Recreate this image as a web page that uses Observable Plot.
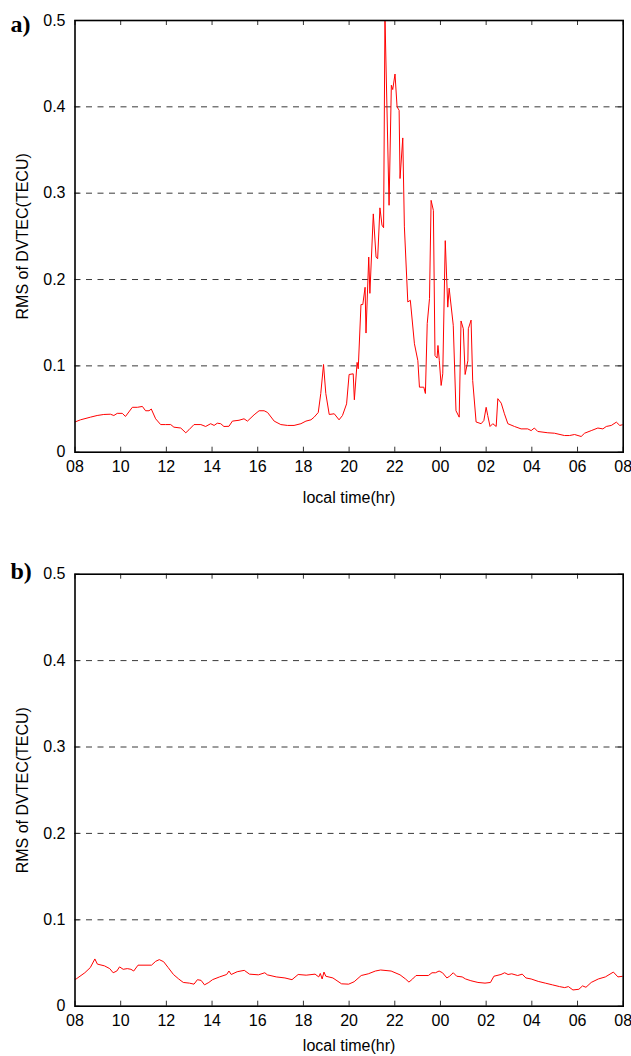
<!DOCTYPE html>
<html><head><meta charset="utf-8">
<script src="https://cdn.jsdelivr.net/npm/d3@7"></script>
<script src="https://cdn.jsdelivr.net/npm/@observablehq/plot@0.6"></script>
<style>
html,body{margin:0;padding:0;background:#fff;}
#chart svg{display:block;}
</style></head><body><div id="chart"></div>
<script>
// ---- data (local time in hours from 08 to next-day 08, RMS of DVTEC in TECU) ----
const hoursA = [8.00,8.24,8.68,8.97,9.26,9.55,9.70,9.85,10.07,10.21,10.51,10.73,10.95,11.09,11.24,11.34,11.53,11.75,11.97,12.19,12.33,12.63,12.85,12.99,13.21,13.51,13.72,13.94,14.09,14.23,14.38,14.52,14.74,14.89,15.18,15.40,15.55,15.84,16.06,16.28,16.43,16.72,17.01,17.30,17.59,17.89,18.11,18.33,18.47,18.65,18.76,18.88,18.98,19.13,19.35,19.56,19.71,19.89,20.00,20.18,20.23,20.35,20.40,20.52,20.60,20.70,20.74,20.86,20.91,21.06,21.18,21.25,21.35,21.44,21.51,21.57,21.75,21.85,21.91,22.01,22.10,22.19,22.23,22.35,22.42,22.57,22.68,22.86,23.01,23.08,23.27,23.34,23.42,23.52,23.59,23.69,23.76,23.85,23.89,23.95,24.03,24.10,24.21,24.32,24.38,24.56,24.68,24.82,24.90,25.00,25.08,25.20,25.22,25.34,25.41,25.56,25.78,25.90,26.00,26.07,26.17,26.29,26.44,26.51,26.66,26.80,26.95,27.24,27.53,27.82,27.97,28.11,28.26,28.70,28.99,29.43,29.65,29.87,30.16,30.31,30.60,30.89,31.11,31.26,31.48,31.70,31.85,32.00];
const rmsA = [0.035,0.0375,0.0406,0.0425,0.0437,0.044,0.0425,0.045,0.045,0.0414,0.052,0.052,0.053,0.048,0.048,0.050,0.0387,0.032,0.032,0.032,0.029,0.028,0.0225,0.026,0.032,0.032,0.0298,0.033,0.031,0.0336,0.033,0.0298,0.030,0.036,0.037,0.0387,0.036,0.0433,0.048,0.048,0.046,0.036,0.032,0.031,0.031,0.033,0.036,0.0375,0.0406,0.046,0.068,0.1016,0.068,0.0437,0.0445,0.0375,0.0425,0.056,0.090,0.0908,0.0607,0.104,0.0966,0.171,0.171,0.191,0.138,0.226,0.184,0.276,0.226,0.224,0.283,0.263,0.260,0.505,0.286,0.425,0.42,0.438,0.40,0.396,0.317,0.364,0.261,0.174,0.176,0.1256,0.106,0.0753,0.0753,0.068,0.149,0.178,0.2917,0.28,0.112,0.109,0.1236,0.106,0.0773,0.0908,0.245,0.168,0.190,0.147,0.048,0.0406,0.152,0.143,0.090,0.106,0.143,0.153,0.083,0.035,0.033,0.0367,0.052,0.0425,0.0298,0.033,0.0298,0.062,0.0568,0.0445,0.033,0.0298,0.027,0.027,0.025,0.028,0.024,0.0225,0.022,0.0193,0.0193,0.0205,0.0182,0.022,0.025,0.028,0.027,0.0298,0.031,0.0348,0.031,0.032];

const hoursB = [8.00,8.05,8.43,8.67,8.87,8.98,9.29,9.52,9.67,9.83,9.95,10.11,10.29,10.45,10.57,10.76,11.35,11.53,11.69,11.88,12.08,12.31,12.54,12.74,13.01,13.21,13.36,13.52,13.67,13.86,14.02,14.33,14.64,14.74,14.84,15.10,15.41,15.64,16.03,16.31,16.42,16.81,17.19,17.50,17.77,18.12,18.51,18.67,18.74,18.82,18.90,18.98,19.29,19.67,19.98,20.22,20.53,20.84,21.15,21.38,21.84,22.23,22.47,22.62,22.78,22.93,23.47,23.63,23.78,23.94,24.09,24.28,24.40,24.56,24.71,24.95,25.10,25.33,25.64,25.95,26.19,26.34,26.65,26.81,26.96,27.12,27.38,27.58,27.74,27.97,28.28,28.59,28.90,29.21,29.44,29.60,29.80,30.06,30.22,30.37,30.60,30.91,31.22,31.57,31.77,32.00];
const rmsB = [0.031,0.0315,0.0387,0.0447,0.0547,0.0487,0.0467,0.0435,0.0387,0.0407,0.0455,0.0427,0.0435,0.0427,0.0407,0.0475,0.0475,0.0519,0.0539,0.0515,0.0447,0.0367,0.0315,0.0275,0.0267,0.0255,0.0307,0.0299,0.0247,0.0275,0.0307,0.0339,0.0367,0.0407,0.0367,0.0399,0.0415,0.0371,0.0363,0.0387,0.0363,0.0339,0.0327,0.0307,0.0367,0.0359,0.0371,0.0339,0.0379,0.0315,0.0395,0.0347,0.0327,0.0259,0.0255,0.0283,0.0355,0.0375,0.0407,0.0419,0.0407,0.0363,0.0315,0.0279,0.0315,0.0355,0.0355,0.0387,0.0387,0.0407,0.0387,0.0327,0.0347,0.0387,0.0347,0.0339,0.0315,0.0295,0.0275,0.0267,0.0275,0.0347,0.0367,0.0387,0.0367,0.0375,0.0355,0.0371,0.0327,0.0315,0.0287,0.0267,0.0247,0.0227,0.0215,0.0227,0.0188,0.0196,0.0235,0.0219,0.0275,0.0315,0.0339,0.0395,0.0339,0.0347];

const xTicks = [8,10,12,14,16,18,20,22,24,26,28,30,32];
const yTicks = [0,0.1,0.2,0.3,0.4,0.5];
const gridValues = [0.1,0.2,0.3,0.4];
const xLabel = "local time(hr)";
const yLabel = "RMS of DVTEC(TECU)";
const panelTags = ["a)", "b)"];

const fmtHour = h => String(h % 24).padStart(2, "0");

function panel(hours, values, tag, cfg) {
  const data = hours.map((h, i) => ({h, v: values[i]}));
  const W = 631, mL = 74.5, mR = 8.3;
  const ph = cfg.height - cfg.marginTop - cfg.marginBottom;
  const pw = W - mL - mR;
  return Plot.plot({
    width: W, height: cfg.height,
    marginLeft: mL, marginRight: mR, marginTop: cfg.marginTop, marginBottom: cfg.marginBottom,
    style: {fontFamily: "'Liberation Sans', Arial, Helvetica, sans-serif", fontSize: "16px", color: "black", background: "white", overflow: "visible"},
    x: {domain: [8, 32]},
    y: {domain: [0, 0.5]},
    marks: [
      Plot.ruleY(gridValues, {stroke: "#3a3a3a", strokeWidth: 1, strokeDasharray: "6,5.5"}),
      Plot.line(data, {x: "h", y: "v", stroke: "#ff0000", strokeWidth: 1, clip: true}),
      Plot.tickX(xTicks, {x: d => d, insetTop: ph - 5, stroke: "#333"}),
      Plot.tickX(xTicks, {x: d => d, insetBottom: ph - 5, stroke: "#333"}),
      Plot.tickY(yTicks, {y: d => d, insetRight: pw - 5, stroke: "#333"}),
      Plot.tickY(yTicks, {y: d => d, insetLeft: pw - 5, stroke: "#333"}),
      Plot.axisX(xTicks, {tickSize: 0, tickPadding: 8, tickFormat: fmtHour, label: null}),
      Plot.axisY(yTicks, {tickSize: 0, tickPadding: 9.5, tickFormat: d => String(d), label: null}),
      Plot.frame({stroke: "black", strokeWidth: 1.6}),
      Plot.text([xLabel], {frameAnchor: "bottom", dy: cfg.xLabelDy, lineAnchor: "bottom", textAnchor: "middle", fontSize: 16}),
      Plot.text([yLabel], {frameAnchor: "left", dx: -52, rotate: -90, textAnchor: "middle", lineAnchor: "middle", fontSize: 16}),
      Plot.text([tag], {frameAnchor: "top-left", dx: -64.5, dy: cfg.tagDy, lineAnchor: "bottom", textAnchor: "start",
        fontFamily: "'Liberation Serif', 'Times New Roman', serif", fontWeight: "bold", fontSize: 24})
    ]
  });
}

const chart = document.getElementById("chart");
chart.append(panel(hoursA, rmsA, panelTags[0], {height: 554, marginTop: 20, marginBottom: 102.3, xLabelDy: 51, tagDy: 11}));
chart.append(panel(hoursB, rmsB, panelTags[1], {height: 502, marginTop: 19.7, marginBottom: 50.3, xLabelDy: 45, tagDy: 5}));
</script></body></html>
